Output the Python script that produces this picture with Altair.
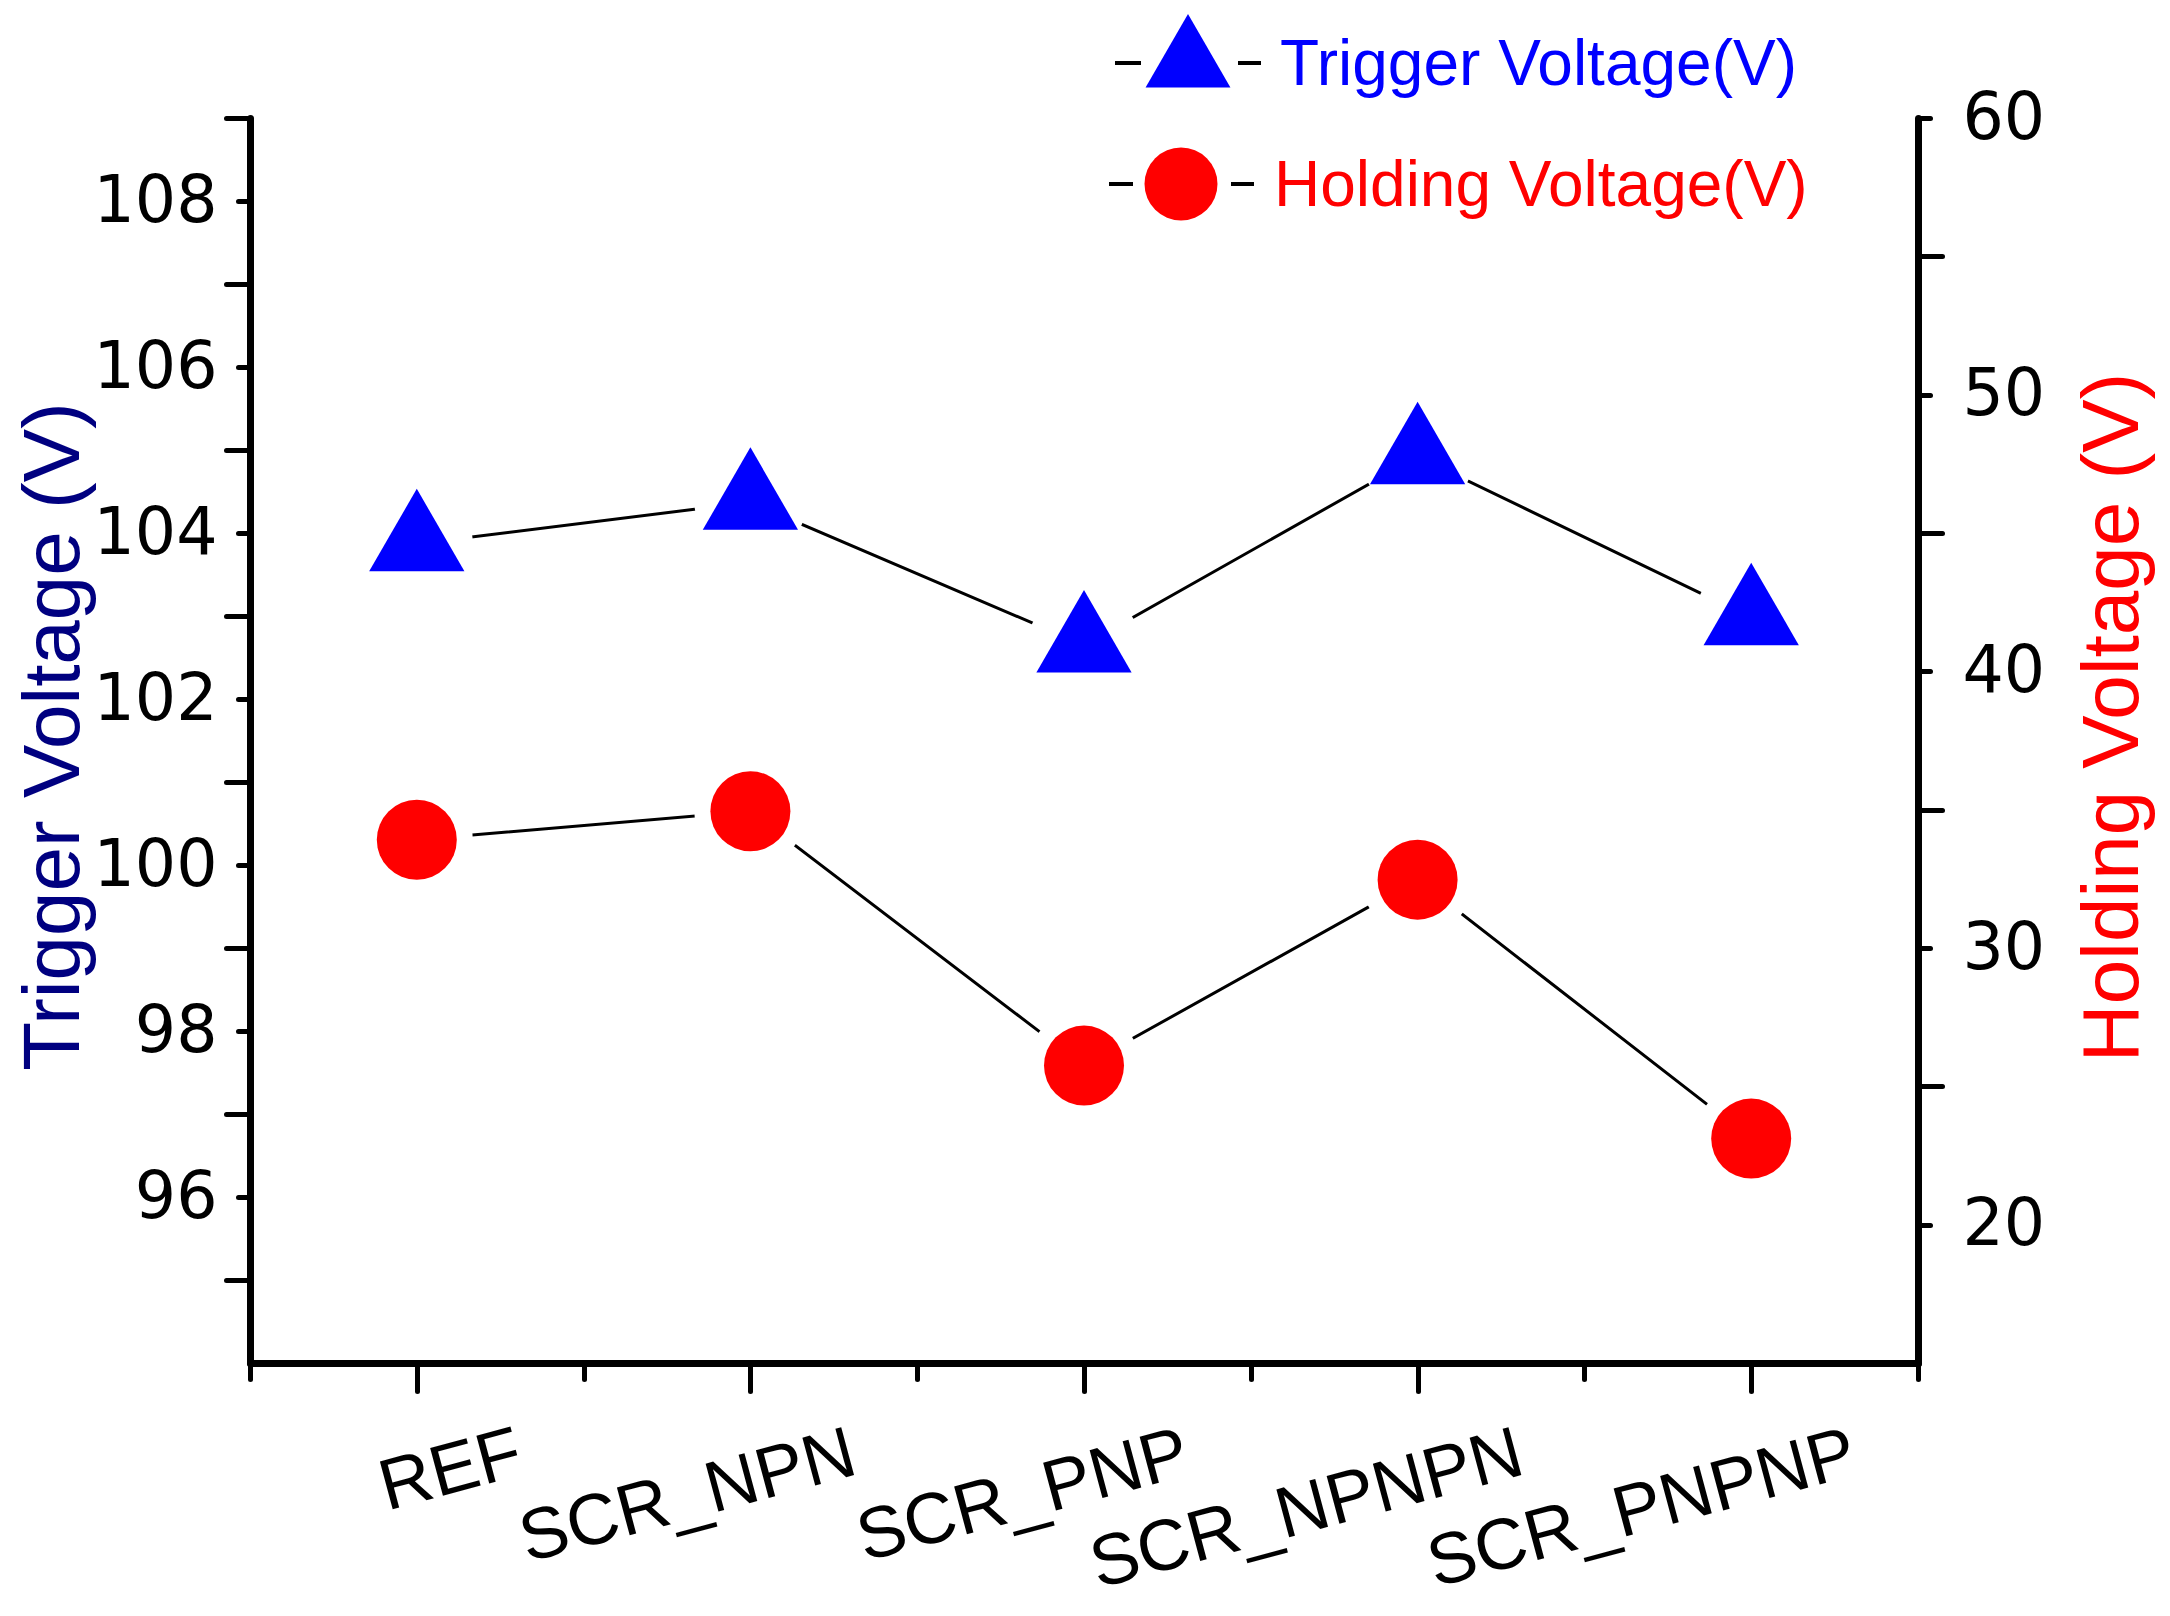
import altair as alt
import pandas as pd

# ---- data ----
categories = ["REF", "SCR_NPN", "SCR_PNP", "SCR_NPNPN", "SCR_PNPNP"]
trigger_v = [103.87, 104.37, 102.65, 104.92, 102.98]
holding_v = [33.91, 34.94, 25.75, 32.47, 23.11]

x_tick_values = [0.5, 1, 1.5, 2, 2.5, 3, 3.5, 4, 4.5, 5, 5.5]
left_tick_values = list(range(95, 110))
right_tick_values = list(range(20, 61, 5))
legend_labels = ["Trigger Voltage(V)", "Holding Voltage(V)"]
legend_colors = ["#0000FF", "#FF0000"]

FONT = "Liberation Sans"
NUMFONT = "DejaVu Sans"
TRI = "M0,-1L0.866,0.5L-0.866,0.5Z"

df = pd.DataFrame({
    "idx": list(range(1, len(categories) + 1)),
    "category": categories,
    "trigger": trigger_v,
    "holding": holding_v,
})

names_js = "[" + ",".join("'" + c + "'" for c in categories) + "]"
x_label_expr = "datum.value % 1 == 0 ? " + names_js + "[datum.value - 1] : ''"

x_enc = alt.X(
    "idx:Q",
    scale=alt.Scale(domain=[0.5, 5.5], nice=False, zero=False),
    axis=alt.Axis(
        values=x_tick_values,
        labelExpr=x_label_expr,
        tickSize={"condition": {"test": "datum.value % 1 == 0", "value": 28}, "value": 16},
        tickWidth=5, tickColor="black", tickCap="round",
        domainWidth=7, domainColor="black", domainCap="round",
        labelFont=FONT, labelFontSize=72, labelColor="black", labelLimit=2000,
        labelAngle=345, labelAlign="right", labelBaseline="top",
        labelOffset=94, labelPadding=27, labelOverlap=False, labelBound=False,
        grid=False, title=None,
    ),
)

left_axis = alt.Axis(
    orient="left",
    values=left_tick_values,
    labelExpr="datum.value % 2 == 0 ? datum.label : ''",
    tickSize={"condition": {"test": "datum.value % 2 == 0", "value": 12}, "value": 24},
    tickWidth=5, tickColor="black", tickCap="round",
    domainWidth=7, domainColor="black", domainCap="round",
    labelFont=NUMFONT, labelFontSize=65, labelColor="black", labelPadding=21,
    labelOverlap=False, labelBound=False, grid=False,
    title="Trigger Voltage (V)", titleFont=FONT, titleFontSize=80,
    titleFontWeight="normal", titleColor="#000080", titleAngle=270,
    titleAlign="center", titleBaseline="middle", titleX=-196, titleY=618,
)

right_axis = alt.Axis(
    orient="right",
    values=right_tick_values,
    labelExpr="datum.value % 10 == 0 ? datum.label : ''",
    tickSize={"condition": {"test": "datum.value % 10 == 0", "value": 12}, "value": 24},
    tickWidth=5, tickColor="black", tickCap="round",
    domainWidth=7, domainColor="black", domainCap="round",
    labelFont=NUMFONT, labelFontSize=65, labelColor="black", labelPadding=32,
    labelOverlap=False, labelBound=False, grid=False,
    title="Holding Voltage (V)", titleFont=FONT, titleFontSize=80,
    titleFontWeight="normal", titleColor="#FF0000", titleAngle=270,
    titleAlign="center", titleBaseline="middle", titleX=195, titleY=599,
)

trig_base = alt.Chart(df).encode(
    x=x_enc,
    y=alt.Y("trigger:Q", scale=alt.Scale(domain=[94, 109], nice=False, zero=False), axis=left_axis),
)
trig = alt.layer(
    trig_base.mark_line(color="black", strokeWidth=3),
    trig_base.mark_point(shape="circle", filled=True, color="white", opacity=1, size=12544),
    trig_base.mark_point(shape=TRI, filled=True, color="#0000FF", opacity=1, size=12100),
)

hold_base = alt.Chart(df).encode(
    x=x_enc,
    y=alt.Y("holding:Q", scale=alt.Scale(domain=[15, 60], nice=False, zero=False), axis=right_axis),
)
hold = alt.layer(
    hold_base.mark_line(color="black", strokeWidth=3),
    hold_base.mark_point(shape="circle", filled=True, color="white", opacity=1, size=12544),
    hold_base.mark_point(shape="circle", filled=True, color="#FF0000", opacity=1, size=6400),
)

# ---- manual legend ----
leg_layers = []
leg_rows = [
    # (dash1 x, dash1 x2, symbol x, dash2 x, dash2 x2, row y, text x, text y, shape, size)
    (865, 891, 938, 988, 1011, -55, 1030, -33, TRI, 9600),
    (859, 883, 931, 981, 1004, 66, 1024, 88, "circle", 5329),
]
for i, (d1a, d1b, sx, d2a, d2b, ry, tx, ty, shp, sz) in enumerate(leg_rows):
    ld = pd.DataFrame({"label": [legend_labels[i]]})
    base = alt.Chart(ld)
    leg_layers.append(base.mark_rule(color="black", strokeWidth=4).encode(
        x=alt.value(d1a), x2=alt.value(d1b), y=alt.value(ry)))
    leg_layers.append(base.mark_rule(color="black", strokeWidth=4).encode(
        x=alt.value(d2a), x2=alt.value(d2b), y=alt.value(ry)))
    leg_layers.append(base.mark_point(shape=shp, filled=True, opacity=1, size=sz,
                                      color=legend_colors[i]).encode(
        x=alt.value(sx), y=alt.value(ry)))
    leg_layers.append(base.mark_text(align="left", baseline="alphabetic", font=FONT,
                                     fontSize=64, color=legend_colors[i]).encode(
        x=alt.value(tx), y=alt.value(ty), text="label:N"))

chart = alt.layer(trig, hold, *leg_layers).resolve_scale(y="independent").properties(
    width=1668,
    height=1245,
    autosize=alt.AutoSizeParams(type="none"),
    padding={"left": 242, "top": 110, "right": 240, "bottom": 245},
    background="white",
).configure_view(strokeWidth=0)

chart.save("out.html", embed_options={"renderer": "svg", "actions": False})
